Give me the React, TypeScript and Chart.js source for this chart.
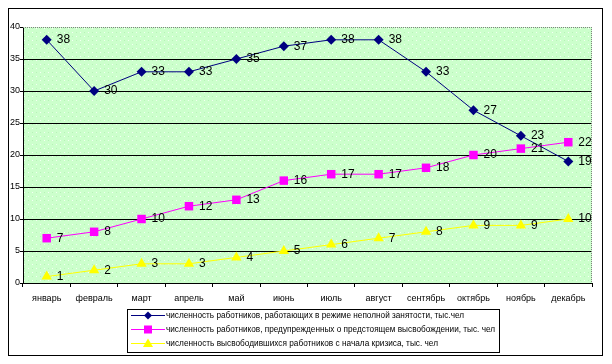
import React, { useEffect, useRef } from "react";
import { Chart, registerables } from "chart.js";

Chart.register(...registerables);

const months = ["январь", "февраль", "март", "апрель", "май", "июнь", "июль", "август", "сентябрь", "октябрь", "ноябрь", "декабрь"];
const partTime = [38, 30, 33, 33, 35, 37, 38, 38, 33, 27, 23, 19];
const warned = [7, 8, 10, 12, 13, 16, 17, 17, 18, 20, 21, 22];
const released = [1, 2, 3, 3, 4, 5, 6, 7, 8, 9, 9, 10];
const seriesNames = [
  "численность работников, работающих в режиме неполной занятости, тыс.чел",
  "численность работников, предупрежденных о предстоящем высвобождении, тыс. чел",
  "численность высвободившихся работников с начала кризиса, тыс. чел",
];
const legendTextWidths = [298, 329, 272];
const yMin = 0;
const yMax = 40;
const yStep = 5;

const FONT = 'Arial, "Liberation Sans", sans-serif';
const W = 595;
const H = 348;

function makePattern(ctx: CanvasRenderingContext2D) {
  const c = document.createElement("canvas");
  c.width = 8;
  c.height = 8;
  const p = c.getContext("2d")!;
  p.fillStyle = "#CCFFCC";
  p.fillRect(0, 0, 8, 8);
  p.fillStyle = "#F4FFF4";
  p.fillRect(0, 0, 1, 1);
  p.fillRect(4, 4, 1, 1);
  p.fillStyle = "#B6F2B6";
  p.fillRect(4, 0, 1, 1);
  p.fillRect(0, 4, 1, 1);
  return ctx.createPattern(c, "repeat")!;
}

function drawMarker(ctx: CanvasRenderingContext2D, style: string, x: number, y: number, r: number, color: string) {
  ctx.save();
  ctx.fillStyle = color;
  ctx.beginPath();
  if (style === "rectRot") {
    ctx.moveTo(x, y - r);
    ctx.lineTo(x + r, y);
    ctx.lineTo(x, y + r);
    ctx.lineTo(x - r, y);
    ctx.closePath();
  } else if (style === "rect") {
    ctx.rect(x - r, y - r, 2 * r, 2 * r);
  } else {
    ctx.moveTo(x, y - r);
    ctx.lineTo(x + r, y + r * 0.7);
    ctx.lineTo(x - r, y + r * 0.7);
    ctx.closePath();
  }
  ctx.fill();
  ctx.restore();
}

const bgPlugin = {
  id: "bgPlugin",
  beforeDraw(chart: any) {
    const { ctx, chartArea: a } = chart;
    ctx.save();
    ctx.fillStyle = "#FFFFFF";
    ctx.fillRect(0, 0, chart.width, chart.height);
    ctx.fillStyle = makePattern(ctx);
    ctx.fillRect(a.left, a.top, a.right - a.left, a.bottom - a.top);
    ctx.restore();
  },
  beforeDatasetsDraw(chart: any) {
    const { ctx, chartArea: a } = chart;
    ctx.save();
    ctx.strokeStyle = "#808080";
    ctx.lineWidth = 1;
    ctx.setLineDash([1, 1]);
    ctx.beginPath();
    ctx.moveTo(a.left, a.top + 0.5);
    ctx.lineTo(a.right, a.top + 0.5);
    ctx.moveTo(a.right - 0.5, a.top);
    ctx.lineTo(a.right - 0.5, a.bottom);
    ctx.stroke();
    ctx.restore();
  },
  afterDatasetsDraw(chart: any) {
    const { ctx } = chart;
    ctx.save();
    ctx.font = `12px ${FONT}`;
    ctx.fillStyle = "#000000";
    ctx.textAlign = "left";
    ctx.textBaseline = "middle";
    chart.data.datasets.forEach((ds: any, i: number) => {
      const meta = chart.getDatasetMeta(i);
      meta.data.forEach((el: any, j: number) => {
        ctx.fillText(String(ds.data[j]), el.x + 10, el.y);
      });
    });
    ctx.restore();
  },
  afterDraw(chart: any) {
    const { ctx } = chart;
    ctx.save();
    ctx.strokeStyle = "#000000";
    ctx.lineWidth = 1;
    ctx.strokeRect(0.5, 0.5, W - 1, H - 1);
    const lx = 119, ly = 301, lw = 372, lh = 43;
    ctx.strokeRect(lx + 0.5, ly + 0.5, lw, lh);
    const rowsY = [307, 321, 335];
    ctx.font = `9px ${FONT}`;
    ctx.textBaseline = "middle";
    ctx.textAlign = "left";
    chart.data.datasets.forEach((ds: any, i: number) => {
      const y = rowsY[i];
      ctx.strokeStyle = ds.borderColor;
      ctx.lineWidth = 1;
      ctx.beginPath();
      ctx.moveTo(123, y + 0.5);
      ctx.lineTo(157, y + 0.5);
      ctx.stroke();
      const r = ds.pointStyle === "triangle" ? 5 : 4;
      drawMarker(ctx, ds.pointStyle, 140, y + 0.5, r, ds.pointBackgroundColor);
      ctx.fillStyle = "#000000";
      ctx.fillText(ds.label, 158, y + 1, legendTextWidths[i]);
    });
    ctx.restore();
  },
};

export default function App() {
  const ref = useRef<HTMLCanvasElement>(null);
  useEffect(() => {
    const canvas = ref.current!;
    const chart = new Chart(canvas, {
      type: "line",
      data: {
        labels: months,
        datasets: [
          {
            label: seriesNames[0],
            data: partTime,
            borderColor: "#000080",
            backgroundColor: "#000080",
            pointBackgroundColor: "#000080",
            pointBorderColor: "#000080",
            pointStyle: "rectRot",
            pointRadius: 5,
            borderWidth: 1,
            pointBorderWidth: 0,
          },
          {
            label: seriesNames[1],
            data: warned,
            borderColor: "#FF00FF",
            backgroundColor: "#FF00FF",
            pointBackgroundColor: "#FF00FF",
            pointBorderColor: "#FF00FF",
            pointStyle: "rect",
            pointRadius: 6,
            borderWidth: 1,
            pointBorderWidth: 0,
          },
          {
            label: seriesNames[2],
            data: released,
            borderColor: "#FFFF00",
            backgroundColor: "#FFFF00",
            pointBackgroundColor: "#FFFF00",
            pointBorderColor: "#FFFF00",
            pointStyle: "triangle",
            pointRadius: 6,
            borderWidth: 1,
            pointBorderWidth: 0,
          },
        ] as any,
      },
      options: {
        responsive: false,
        animation: false,
        events: [],
        layout: { padding: { left: 0, top: 19, right: 11, bottom: 0 } },
        plugins: {
          legend: { display: false },
          tooltip: { enabled: false },
          title: { display: false },
        },
        scales: {
          x: {
            type: "category",
            offset: true,
            grid: {
              offset: true,
              drawOnChartArea: false,
              drawTicks: true,
              tickLength: 4,
              tickColor: "#000000",
            },
            border: { display: true, color: "#000000", width: 1 },
            ticks: {
              font: { family: FONT, size: 9 },
              color: "#000000",
              padding: 6,
              maxRotation: 0,
              autoSkip: false,
            },
            afterFit(scale: any) {
              scale.height = 73;
            },
          },
          y: {
            min: yMin,
            max: yMax,
            grid: {
              color: (c: any) => (c.tick && c.tick.value === yMax ? "rgba(0,0,0,0)" : "#000000"),
              tickColor: "#000000",
              tickLength: 3,
              lineWidth: 1,
            },
            border: { display: true, color: "#000000", width: 1 },
            ticks: {
              stepSize: yStep,
              font: { family: FONT, size: 9 },
              color: "#000000",
              padding: 0,
            },
            afterFit(scale: any) {
              scale.width = 15;
            },
          },
        },
      } as any,
      plugins: [bgPlugin],
    });
    return () => chart.destroy();
  }, []);
  return (
    <div style={{ width: W, height: H }}>
      <canvas ref={ref} width={W} height={H} style={{ display: "block", width: W, height: H }} />
    </div>
  );
}
